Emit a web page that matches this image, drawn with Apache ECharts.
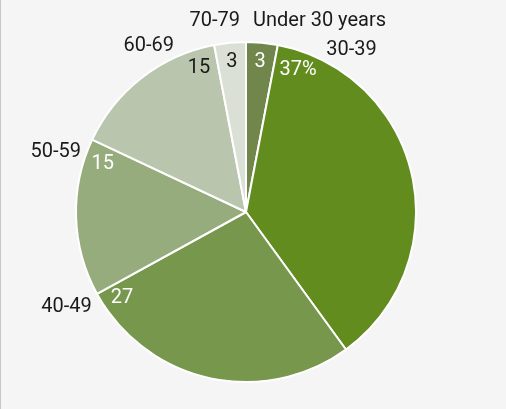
<!DOCTYPE html>
<html>
<head>
<meta charset="utf-8">
<script src="https://cdn.jsdelivr.net/npm/echarts@6/dist/echarts.min.js"></script>
<style>
  html, body { margin: 0; padding: 0; background: #f5f5f5; }
  #chart { width: 506px; height: 409px; }
</style>
</head>
<body>
<div id="chart"></div>
<script>
// Age groups and their shares (percent)
const categories = ['Under 30 years', '30-39', '40-49', '50-59', '60-69', '70-79'];
const shares = [3, 37, 27, 15, 15, 3];

// Styling
const sliceColors = ['#71864a', '#628c1d', '#76974c', '#97ac7c', '#b9c5ad', '#dbe0d6'];
const valueLabelColors = ['#ffffff', '#ffffff', '#ffffff', '#ffffff', '#1a1a1a', '#1a1a1a'];
const CENTER = [246, 212];
const RADIUS = 170;
const FONT = 'Roboto, "Liberation Sans", sans-serif';
const FONT_SIZE = 20;

// Where each value label sits inside its slice: anchored to an edge of the
// slice (or its middle) with an angular shift in degrees, at a fixed radius.
const valueLabelAnchor = [
  { edge: 'mid', shift: 0 },
  { edge: 'start', shift: 9.4 },
  { edge: 'end', shift: -6 },
  { edge: 'end', shift: -6.8 },
  { edge: 'end', shift: -7.3 },
  { edge: 'mid', shift: 0 }
];
const VALUE_LABEL_RADIUS = 151;

// Category name labels around the pie: polar position (degrees clockwise
// from 12 o'clock, distance from centre) and text alignment.
const nameLabelPlacement = [
  { angle: 2.1, dist: 191, align: 'left' },
  { angle: 26.4, dist: 180.5, align: 'left' },
  { angle: 238.5, dist: 181, align: 'right' },
  { angle: 290.0, dist: 175.5, align: 'right' },
  { angle: 336.5, dist: 180.5, align: 'right' },
  { angle: 358.2, dist: 191, align: 'right' }
];

const total = shares.reduce((a, b) => a + b, 0);
const sliceStart = [];
let acc = 0;
shares.forEach(v => { sliceStart.push(acc / total * 360); acc += v; });
const sliceEnd = shares.map((v, i) => sliceStart[i] + v / total * 360);

function polar(angleDeg, dist) {
  const a = angleDeg * Math.PI / 180;
  return [CENTER[0] + dist * Math.sin(a), CENTER[1] - dist * Math.cos(a)];
}

function valueLabelAngle(i) {
  const anc = valueLabelAnchor[i];
  if (anc.edge === 'start') return sliceStart[i] + anc.shift;
  if (anc.edge === 'end') return sliceEnd[i] + anc.shift;
  return (sliceStart[i] + sliceEnd[i]) / 2 + anc.shift;
}

const pieData = categories.map((name, i) => ({
  name: name,
  value: shares[i],
  itemStyle: { color: sliceColors[i] },
  label: { color: valueLabelColors[i] }
}));

const nameData = categories.map((name, i) => ({ name: name, value: shares[i] }));

const chart = echarts.init(document.getElementById('chart'), null, { renderer: 'canvas' });

chart.setOption({
  backgroundColor: '#f5f5f5',
  animation: false,
  graphic: [{
    type: 'rect',
    left: 0, top: 0,
    shape: { width: 1, height: 409 },
    style: { fill: '#c8c8c8' },
    silent: true
  }],
  series: [
    {
      type: 'pie',
      center: CENTER,
      radius: [0, RADIUS],
      startAngle: 90,
      clockwise: true,
      silent: true,
      itemStyle: { borderColor: '#ffffff', borderWidth: 2 },
      label: {
        show: true,
        position: 'inside',
        fontFamily: FONT,
        fontSize: FONT_SIZE,
        formatter: p => p.dataIndex === 1 ? p.value + '%' : String(p.value)
      },
      labelLine: { show: false },
      labelLayout: function (params) {
        const pt = polar(valueLabelAngle(params.dataIndex), VALUE_LABEL_RADIUS);
        return { x: pt[0], y: pt[1], align: 'center', verticalAlign: 'middle' };
      },
      data: pieData
    },
    {
      type: 'pie',
      center: CENTER,
      radius: [0, RADIUS],
      startAngle: 90,
      clockwise: true,
      silent: true,
      z: 3,
      itemStyle: { color: 'rgba(0,0,0,0)', borderWidth: 0 },
      label: {
        show: true,
        position: 'inside',
        fontFamily: FONT,
        fontSize: FONT_SIZE,
        color: '#1a1a1a',
        formatter: p => p.name
      },
      labelLine: { show: false },
      labelLayout: function (params) {
        const pl = nameLabelPlacement[params.dataIndex];
        const pt = polar(pl.angle, pl.dist);
        return { x: pt[0], y: pt[1], align: pl.align, verticalAlign: 'middle' };
      },
      data: nameData
    }
  ]
});
</script>
</body>
</html>
